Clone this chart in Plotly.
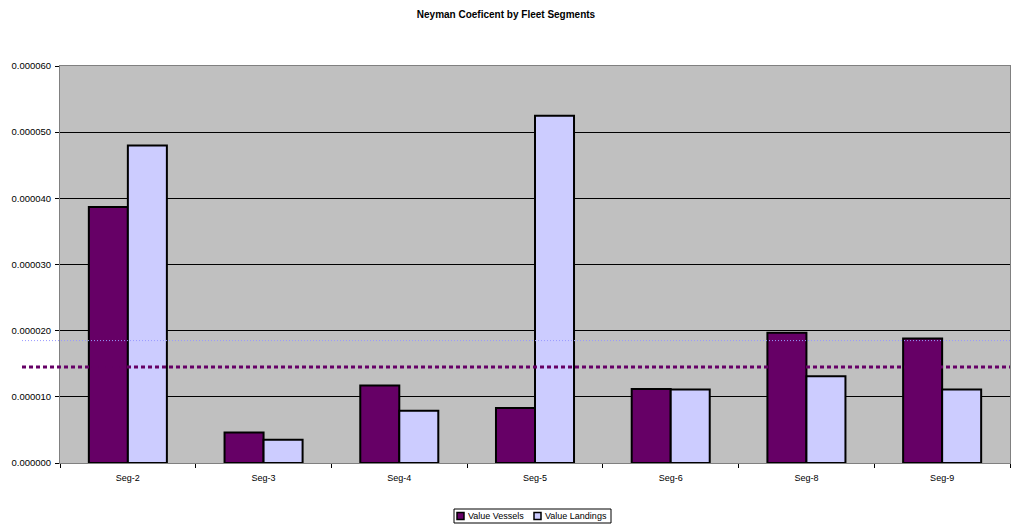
import plotly.graph_objects as go

segments = ["Seg-2", "Seg-3", "Seg-4", "Seg-5", "Seg-6", "Seg-8", "Seg-9"]
value_vessels = [0.0000387, 0.0000046, 0.0000117, 0.0000083, 0.0000112, 0.0000197, 0.0000188]
value_landings = [0.0000480, 0.0000035, 0.0000079, 0.0000525, 0.0000111, 0.0000131, 0.0000111]
ref_vessels = 0.0000145
ref_landings = 0.0000185
y_ticks = [0.0, 0.00001, 0.00002, 0.00003, 0.00004, 0.00005, 0.00006]
series_names = ["Value Vessels", "Value Landings"]
series_colors = ["#660066", "#CCCCFF"]

font_family = "Liberation Sans, Arial, sans-serif"

W, H = 1012, 525
ML, MR, MT, MB = 60, 2, 66, 62
PW, PH = W - ML - MR, H - MT - MB


def px_x(px):
    return (px - ML) / PW


def px_y(py):
    return (H - MB - py) / PH


fig = go.Figure()
for name, vals, col in zip(series_names, [value_vessels, value_landings], series_colors):
    fig.add_trace(go.Bar(
        x=segments, y=vals, name=name, showlegend=False,
        marker=dict(color=col, line=dict(color="black", width=2)),
    ))

# horizontal reference levels drawn across the whole plot
fig.add_shape(type="line", xref="paper", yref="y", x0=-0.04, x1=1,
              y0=ref_landings, y1=ref_landings, layer="above",
              line=dict(color="#9999FF", width=1, dash="1px,2px"))
fig.add_shape(type="line", xref="paper", yref="y", x0=-0.04, x1=1,
              y0=ref_vessels, y1=ref_vessels, layer="above",
              line=dict(color="#660066", width=3, dash="4px,3px"))

# compact boxed legend under the axis
fig.add_shape(type="rect", xref="paper", yref="paper",
              x0=px_x(454), x1=px_x(611), y0=px_y(509), y1=px_y(523),
              line=dict(color="black", width=1), fillcolor="white")
legend_items = [(457, series_names[0], series_colors[0]),
                (534, series_names[1], series_colors[1])]
for sx, name, col in legend_items:
    fig.add_shape(type="rect", xref="paper", yref="paper",
                  x0=px_x(sx), x1=px_x(sx + 7), y0=px_y(512.5), y1=px_y(519.5),
                  line=dict(color="black", width=1.5), fillcolor=col)
    fig.add_annotation(xref="paper", yref="paper", x=px_x(sx + 9), y=px_y(516),
                       xanchor="left", yanchor="middle", showarrow=False,
                       text=name, font=dict(size=9, color="black"))

fig.update_layout(
    width=W, height=H,
    margin=dict(l=ML, r=MR, t=MT, b=MB, autoexpand=False),
    paper_bgcolor="white",
    plot_bgcolor="#C0C0C0",
    font=dict(family=font_family, size=9, color="black"),
    title=dict(text="<b>Neyman Coeficent by Fleet Segments</b>",
               x=0.5, xanchor="center", y=0.973, yanchor="middle",
               font=dict(family=font_family, size=10, color="black")),
    barmode="group", bargap=0.425, bargroupgap=0,
    showlegend=False,
    xaxis=dict(
        showgrid=False, showline=True, linecolor="#808080", linewidth=1,
        mirror=True, ticks="outside", tickson="boundaries", ticklen=4,
        tickcolor="black", tickfont=dict(size=9), ticklabelstandoff=6,
    ),
    yaxis=dict(
        range=[0, 0.00006], tickvals=y_ticks, tickformat=".6f",
        showgrid=True, gridcolor="black", gridwidth=1,
        showline=True, linecolor="#808080", linewidth=1, mirror=True,
        ticks="outside", ticklen=4, tickcolor="black",
        tickfont=dict(size=9.5), zeroline=False, ticklabelstandoff=2,
    ),
)

fig.write_html("out.html")
